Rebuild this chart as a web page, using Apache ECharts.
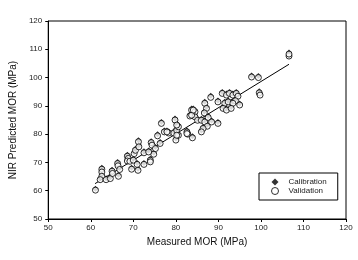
<!DOCTYPE html>
<html><head><meta charset="utf-8">
<script src="https://cdn.jsdelivr.net/npm/echarts@6/dist/echarts.min.js"></script>
<style>html,body{margin:0;padding:0;background:#fff}#c{width:358px;height:260px}</style>
</head><body><div id="c"></div>
<script>
var measured = [61.1,62.6,62.6,62.6,62.2,63.6,64.6,65.0,65.1,66.3,66.4,66.5,66.8,68.6,68.8,68.6,69.2,69.6,70.0,70.2,70.5,71.2,71.3,71.1,70.9,72.5,72.5,74.0,74.2,74.4,74.8,75.2,75.7,76.3,77.3,78.3,79.5,80.0,80.6,76.6,79.8,77.9,80.2,80.6,82.6,82.8,83.9,83.7,84.5,83.3,84.5,85.1,86.8,87.2,86.7,88.2,86.0,86.8,87.6,87.4,86.4,86.0,88.4,89.9,89.9,90.9,91.9,92.6,91.5,92.3,91.1,91.9,93.4,94.2,94.6,94.0,93.4,95.0,93.0,97.8,99.4,99.6,99.8,106.6,106.6,80.2,73.6,74.0,82.6,83.7,84.1,80.2];
var predicted = [60.2,67.6,66.6,65.1,63.9,63.9,64.3,66.9,66.1,69.6,68.8,65.1,67.5,72.2,71.4,70.5,70.4,67.6,70.8,73.1,74.3,77.3,75.5,67.2,69.3,73.4,69.3,70.8,77.0,76.1,72.9,74.9,79.4,76.7,80.8,80.4,80.4,77.9,79.6,83.8,85.0,80.8,81.4,82.6,80.8,80.0,78.7,88.5,87.9,86.4,86.1,84.9,90.9,89.1,87.5,93.0,84.9,84.3,85.9,82.8,82.0,80.8,84.3,83.8,91.4,94.4,93.8,94.4,90.9,91.4,89.1,88.5,93.8,94.4,93.4,91.8,90.9,90.3,89.1,100.2,100.0,94.6,93.8,107.6,108.3,83.2,73.7,70.2,80.2,86.7,88.5,79.6];
var fitX = [61.0, 106.6];
var fitY = [62.5, 104.7];
var xTicks = [50,60,70,80,90,100,110,120];
var yTicks = [50,60,70,80,90,100,110,120];

var pts = measured.map(function(v,i){return [v,predicted[i]];});
var fit = fitX.map(function(v,i){return [v,fitY[i]];});
var font = 'Liberation Sans, Arial, sans-serif';
var chart = echarts.init(document.getElementById('c'), null, {renderer:'canvas'});
chart.setOption({
  animation:false,
  backgroundColor:'#fff',
  grid:{left:45,right:12,top:21,bottom:41,show:true,borderColor:'#000',borderWidth:1,containLabel:false},
  xAxis:{type:'value',min:xTicks[0],max:xTicks[xTicks.length-1],interval:10,
    name:'Measured MOR (MPa)',nameLocation:'middle',nameGap:18,
    nameTextStyle:{fontFamily:font,fontSize:10,color:'#111'},
    axisLine:{lineStyle:{color:'#000',width:1}},
    axisTick:{show:true,inside:false,length:3,lineStyle:{color:'#000'}},
    axisLabel:{fontFamily:font,fontSize:8,color:'#222',margin:5},
    splitLine:{show:false}},
  yAxis:{type:'value',min:yTicks[0],max:yTicks[yTicks.length-1],interval:10,
    name:'NIR Predicted MOR (MPa)',nameLocation:'middle',nameGap:29,
    nameTextStyle:{fontFamily:font,fontSize:10,color:'#111'},
    axisLine:{lineStyle:{color:'#000',width:1}},
    axisTick:{show:true,inside:false,length:3,lineStyle:{color:'#000'}},
    axisLabel:{fontFamily:font,fontSize:8,color:'#222',margin:6},
    splitLine:{show:false}},
  legend:{orient:'vertical',left:259,top:173,
    borderColor:'#000',borderWidth:1,padding:[5,11,5,12],itemGap:1,
    itemWidth:7,itemHeight:7,
    textStyle:{fontFamily:font,fontSize:8,color:'#222',padding:[0,0,0,5]},
    data:[{name:'Calibration',icon:'diamond',itemStyle:{color:'#000',borderWidth:0}},
          {name:'Validation',icon:'circle',itemStyle:{color:'#fff',borderColor:'#000',borderWidth:1}}]},
  series:[
    {name:'Fit',type:'line',data:fit,symbol:'none',lineStyle:{color:'#000',width:1},z:1,silent:true},
    {name:'Calibration',type:'scatter',data:pts,symbol:'diamond',symbolSize:6,symbolOffset:[0,-1.5],
      itemStyle:{color:'#000'},z:2},
    {name:'Validation',type:'scatter',data:pts,symbol:'circle',symbolSize:6,
      itemStyle:{color:'#fff',borderColor:'#000',borderWidth:1},z:3}
  ]
});
</script></body></html>
